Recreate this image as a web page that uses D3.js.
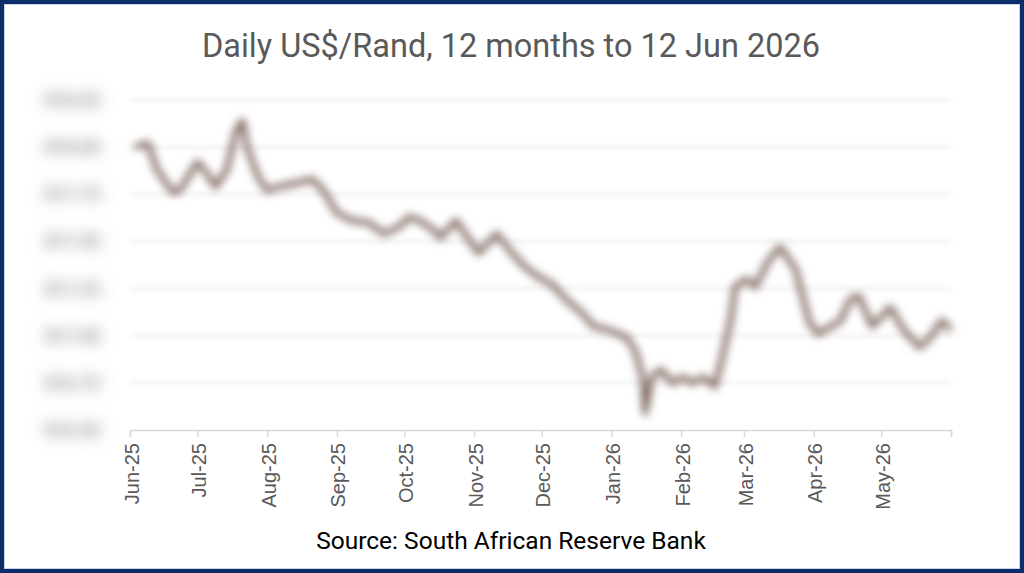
<!DOCTYPE html>
<html>
<head>
<meta charset="utf-8">
<script src="https://cdn.jsdelivr.net/npm/d3@7"></script>
<style>
  html, body { margin: 0; padding: 0; background: #fff; }
  svg { display: block; font-family: Roboto, "Noto Sans", sans-serif; }
</style>
</head>
<body>
<svg id="chart"></svg>
<script>
// daily US$/Rand (blurred in the original)
const dates = [
  '2025-06-03', '2025-06-09', '2025-06-13', '2025-06-20', '2025-06-23',
  '2025-07-01', '2025-07-04', '2025-07-09', '2025-07-14', '2025-07-18',
  '2025-07-21', '2025-07-23', '2025-07-28', '2025-08-01', '2025-08-06',
  '2025-08-14', '2025-08-21', '2025-08-26', '2025-09-01', '2025-09-08',
  '2025-09-15', '2025-09-22', '2025-09-29', '2025-10-03', '2025-10-08',
  '2025-10-14', '2025-10-17', '2025-10-24', '2025-10-29', '2025-11-03',
  '2025-11-07', '2025-11-11', '2025-11-17', '2025-11-24', '2025-12-01',
  '2025-12-05', '2025-12-12', '2025-12-19', '2025-12-24', '2025-12-31',
  '2026-01-08', '2026-01-12', '2026-01-15', '2026-01-16', '2026-01-19',
  '2026-01-23', '2026-01-28', '2026-02-02', '2026-02-06', '2026-02-11',
  '2026-02-16', '2026-02-19', '2026-02-23', '2026-02-25', '2026-03-02',
  '2026-03-06', '2026-03-12', '2026-03-17', '2026-03-20', '2026-03-24',
  '2026-03-27', '2026-03-30', '2026-04-03', '2026-04-13', '2026-04-17',
  '2026-04-21', '2026-04-27', '2026-05-01', '2026-05-05', '2026-05-11',
  '2026-05-18', '2026-05-22', '2026-05-28', '2026-06-01'
];
const rates = [
  18.00, 18.02, 17.88, 17.76, 17.77,
  17.92, 17.88, 17.79, 17.88, 18.08,
  18.14, 18.00, 17.84, 17.77, 17.79,
  17.81, 17.83, 17.77, 17.65, 17.61,
  17.60, 17.54, 17.58, 17.63, 17.61,
  17.56, 17.52, 17.61, 17.52, 17.44,
  17.49, 17.54, 17.45, 17.36, 17.30,
  17.28, 17.19, 17.12, 17.05, 17.03,
  16.99, 16.91, 16.77, 16.59, 16.78,
  16.82, 16.75, 16.78, 16.75, 16.78,
  16.73, 16.87, 17.08, 17.26, 17.30,
  17.26, 17.40, 17.47, 17.42, 17.35,
  17.21, 17.07, 17.01, 17.08, 17.19,
  17.21, 17.05, 17.10, 17.15, 17.03,
  16.94, 16.98, 17.08, 17.03
];
const yTicks = [16.50, 16.75, 17.00, 17.25, 17.50, 17.75, 18.00, 18.25];
const monthTicks = [
  '2025-06-01', '2025-07-01', '2025-08-01', '2025-09-01', '2025-10-01',
  '2025-11-01', '2025-12-01', '2026-01-01', '2026-02-01', '2026-03-01',
  '2026-04-01', '2026-05-01'
];
const axisStart = '2025-06-01';
const axisEnd = '2026-06-01';

const W = 1024, H = 573;
const margin = { top: 100, right: 73, bottom: 143, left: 130 };
const innerW = W - margin.left - margin.right;
const innerH = H - margin.top - margin.bottom;

const parse = d3.timeParse('%Y-%m-%d');
const data = dates.map((d, i) => ({ date: parse(d), value: rates[i] }));

const svg = d3.select('#chart').attr('width', W).attr('height', H);

const defs = svg.append('defs');
defs.append('filter').attr('id', 'blurLine')
  .attr('x', '-5%').attr('y', '-20%').attr('width', '110%').attr('height', '140%')
  .append('feGaussianBlur').attr('stdDeviation', 4);
defs.append('filter').attr('id', 'blurLabel')
  .attr('x', '-40%').attr('y', '-80%').attr('width', '180%').attr('height', '260%')
  .append('feGaussianBlur').attr('stdDeviation', 7.5);
defs.append('filter').attr('id', 'blurGrid')
  .attr('x', '-5%').attr('y', '-500%').attr('width', '110%').attr('height', '1100%')
  .append('feGaussianBlur').attr('stdDeviation', 2);

// frame
svg.append('rect')
  .attr('x', 2).attr('y', 2).attr('width', W - 4).attr('height', H - 4)
  .attr('fill', '#fff').attr('stroke', '#0b2d69').attr('stroke-width', 4);
svg.append('rect')
  .attr('x', 4.5).attr('y', 4.5).attr('width', W - 9).attr('height', H - 9)
  .attr('fill', 'none').attr('stroke', '#c9d3e6').attr('stroke-width', 1);

svg.append('text')
  .attr('x', 511).attr('y', 57)
  .attr('text-anchor', 'middle')
  .attr('fill', '#595959')
  .style('font-size', '32.5px')
  .text('Daily US$/Rand, 12 months to 12 Jun 2026');

const chart = svg.append('g')
  .attr('transform', `translate(${margin.left},${margin.top})`);

const x = d3.scaleTime()
  .domain([parse(axisStart), parse(axisEnd)])
  .range([0, innerW]);
const y = d3.scaleLinear()
  .domain([yTicks[0], yTicks[yTicks.length - 1]])
  .range([innerH, 0]);

// gridlines
chart.append('g')
  .attr('filter', 'url(#blurGrid)')
  .selectAll('line')
  .data(yTicks.slice(1))
  .join('line')
  .attr('x1', 0).attr('x2', innerW)
  .attr('y1', d => y(d)).attr('y2', d => y(d))
  .attr('stroke', '#e8e8e8').attr('stroke-width', 2);

// y labels, blurred as in the original
chart.append('g')
  .attr('filter', 'url(#blurLabel)')
  .selectAll('text')
  .data(yTicks)
  .join('text')
  .attr('x', -30).attr('y', d => y(d))
  .attr('dy', '0.35em')
  .attr('text-anchor', 'end')
  .attr('fill', '#7a7a7a')
  .style('font-size', '17px')
  .style('font-weight', 'bold')
  .text(d => 'R' + d3.format('.2f')(d));

// x axis
const xAxis = chart.append('g')
  .attr('transform', `translate(0,${innerH})`)
  .call(d3.axisBottom(x)
    .tickValues(monthTicks.map(parse).concat([parse(axisEnd)]))
    .tickSize(7)
    .tickFormat((d, i) => i < monthTicks.length ? d3.timeFormat('%b-%y')(d) : ''));
xAxis.select('.domain').attr('stroke', '#d9d9d9').attr('stroke-width', 1.5);
xAxis.selectAll('.tick line').attr('stroke', '#d9d9d9').attr('stroke-width', 1.5);
xAxis.selectAll('.tick text')
  .attr('fill', '#595959')
  .style('font-size', '20px')
  .attr('transform', 'rotate(-90)')
  .attr('text-anchor', 'end')
  .attr('x', -13).attr('y', 0)
  .attr('dy', '0.4em');

// the rate line
const line = d3.line()
  .x(d => x(d.date))
  .y(d => y(d.value))
  .curve(d3.curveLinear);

chart.append('path')
  .datum(data)
  .attr('fill', 'none')
  .attr('stroke', '#7a625a')
  .attr('stroke-width', 5.5)
  .attr('stroke-linejoin', 'round')
  .attr('filter', 'url(#blurLine)')
  .attr('d', line);

svg.append('text')
  .attr('x', 511).attr('y', 549)
  .attr('text-anchor', 'middle')
  .attr('fill', '#000')
  .style('font-size', '24.5px')
  .text('Source: South African Reserve Bank');
</script>
</body>
</html>
